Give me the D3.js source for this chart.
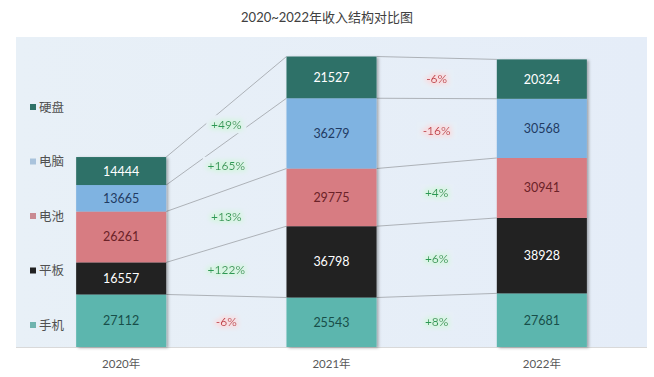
<!DOCTYPE html>
<html><head><meta charset="utf-8">
<script src="https://cdn.jsdelivr.net/npm/d3@7/dist/d3.min.js"></script>
<style>
html,body{margin:0;padding:0;background:#fff;}
svg{display:block;font-family:Lato,"Noto Sans CJK SC",sans-serif;}
</style></head>
<body><svg id="c" width="654" height="377"></svg>
<script>
const title = "2020~2022年收入结构对比图";
const years = ["2020年","2021年","2022年"];
// series from bottom to top
const seriesNames = ["手机","平板","电池","电脑","硬盘"];
const seriesColors = ["#5bb6ae","#222222","#d77b82","#7fb3e1","#2e7167"];
const legendColors = ["#6fb4ae","#222222","#c98a92","#a9c3dc","#2e7167"];
const labelColors = ["#184e49","#ffffff","#6b2228","#1f3b63","#ffffff"];
const phone   = [27112, 25543, 27681];
const tablet  = [16557, 36798, 38928];
const battery = [26261, 29775, 30941];
const pc      = [13665, 36279, 30568];
const disk    = [14444, 21527, 20324];
const values = [phone, tablet, battery, pc, disk];
const yMax = 160000;

const svg = d3.select("#c");
const W = 654, H = 377;
const plot = {left:16, right:647, top:37, bottom:347};

const defs = svg.append("defs");
const grad = defs.append("linearGradient").attr("id","bg").attr("x1","0").attr("x2","1").attr("y1","0").attr("y2","0");
grad.append("stop").attr("offset","0").attr("stop-color","#e8f0f7");
grad.append("stop").attr("offset","1").attr("stop-color","#e5edf8");
const sh = defs.append("filter").attr("id","shadow").attr("x","-20%").attr("y","-20%").attr("width","140%").attr("height","140%");
sh.append("feDropShadow").attr("dx",2).attr("dy",1).attr("stdDeviation",1.5).attr("flood-color","#000").attr("flood-opacity",0.3);
function glow(id,color){
  const f = defs.append("filter").attr("id",id).attr("x","-30%").attr("y","-60%").attr("width","160%").attr("height","220%");
  f.append("feMorphology").attr("in","SourceAlpha").attr("operator","dilate").attr("radius",2).attr("result","d");
  f.append("feGaussianBlur").attr("in","d").attr("stdDeviation",2).attr("result","b");
  f.append("feFlood").attr("flood-color",color).attr("result","c");
  f.append("feComposite").attr("in","c").attr("in2","b").attr("operator","in").attr("result","g");
  const m = f.append("feMerge");
  m.append("feMergeNode").attr("in","g");
  m.append("feMergeNode").attr("in","SourceGraphic");
}
glow("gGreen","#d4f5df");
glow("gRed","#fbd9dc");

svg.append("rect").attr("x",plot.left).attr("y",plot.top).attr("width",plot.right-plot.left).attr("height",plot.bottom-plot.top).attr("fill","url(#bg)");

svg.append("text").attr("x",W/2).attr("y",22).attr("text-anchor","middle")
  .attr("font-size",13).attr("fill","#404040").text(title);

const x = d3.scaleBand().domain(years).range([plot.left, plot.right]).paddingInner(0.572).paddingOuter(0.286);
const y = d3.scaleLinear().domain([0,yMax]).range([plot.bottom, plot.top]);
const bw = x.bandwidth();

const stackData = years.map((yr,i)=>{ const o={year:yr}; seriesNames.forEach((s,k)=>o[s]=values[k][i]); return o;});
const stacked = d3.stack().keys(seriesNames)(stackData);

// connecting lines
const lines = svg.append("g");
for(let i=0;i<years.length-1;i++){
  stacked.forEach((layer,k)=>{
    lines.append("line")
      .attr("x1",x(years[i])+bw).attr("y1",y(layer[i][1]))
      .attr("x2",x(years[i+1])).attr("y2",y(layer[i+1][1]))
      .attr("stroke","#a6aab0").attr("stroke-width",0.9);
  });
}

// axis baseline
svg.append("line").attr("x1",plot.left).attr("x2",plot.right).attr("y1",plot.bottom+0.5).attr("y2",plot.bottom+0.5).attr("stroke","#d9d9d9");

// bars
const bars = svg.append("g").attr("filter","url(#shadow)");
stacked.forEach((layer,k)=>{
  bars.selectAll(null).data(layer).enter().append("rect")
    .attr("x",d=>x(d.data.year)).attr("width",bw)
    .attr("y",d=>y(d[1])).attr("height",d=>y(d[0])-y(d[1]))
    .attr("fill",seriesColors[k]);
});
stacked.forEach((layer,k)=>{
  svg.selectAll(null).data(layer).enter().append("text")
    .attr("x",d=>x(d.data.year)+bw/2).attr("y",d=>(y(d[0])+y(d[1]))/2)
    .attr("dy","0.36em").attr("text-anchor","middle").attr("font-size",12.5)
    .attr("fill",labelColors[k]).text(d=>d[1]-d[0]);
});

// change labels
for(let i=0;i<years.length-1;i++){
  stacked.forEach((layer,k)=>{
    const a = layer[i][1]-layer[i][0], b = layer[i+1][1]-layer[i+1][0];
    const pct = Math.round((b-a)/a*100);
    const cx = (x(years[i])+bw + x(years[i+1]))/2;
    const cy = ((y(layer[i][0])+y(layer[i][1]))/2 + (y(layer[i+1][0])+y(layer[i+1][1]))/2)/2;
    const txt = (pct>0?"+":"")+pct+"%";
    const wbox = txt.length*7+12;
    svg.append("rect").attr("x",cx-wbox/2).attr("y",cy-9).attr("width",wbox).attr("height",18).attr("fill","#e7eff7");
    svg.append("text").attr("x",cx).attr("y",cy).attr("dy","0.36em").attr("text-anchor","middle")
      .attr("font-size",12).attr("fill",pct>=0?"#2c9a55":"#c23540")
      .attr("filter",pct>=0?"url(#gGreen)":"url(#gRed)").text(txt);
  });
}

// x axis labels
svg.selectAll(null).data(years).enter().append("text")
  .attr("x",d=>x(d)+bw/2).attr("y",368).attr("text-anchor","middle")
  .attr("font-size",11.5).attr("fill","#595959").text(d=>d);

// legend (top to bottom: 硬盘 ... 手机)
const legOrder = d3.range(seriesNames.length).reverse();
const ly = d3.scalePoint().domain(legOrder).range([107,325]);
const leg = svg.append("g");
legOrder.forEach(k=>{
  leg.append("rect").attr("x",30).attr("y",ly(k)-3).attr("width",6).attr("height",6).attr("fill",legendColors[k]);
  leg.append("text").attr("x",39).attr("y",ly(k)).attr("dy","0.36em").attr("font-size",12.5).attr("fill","#505050").text(seriesNames[k]);
});
</script></body></html>
